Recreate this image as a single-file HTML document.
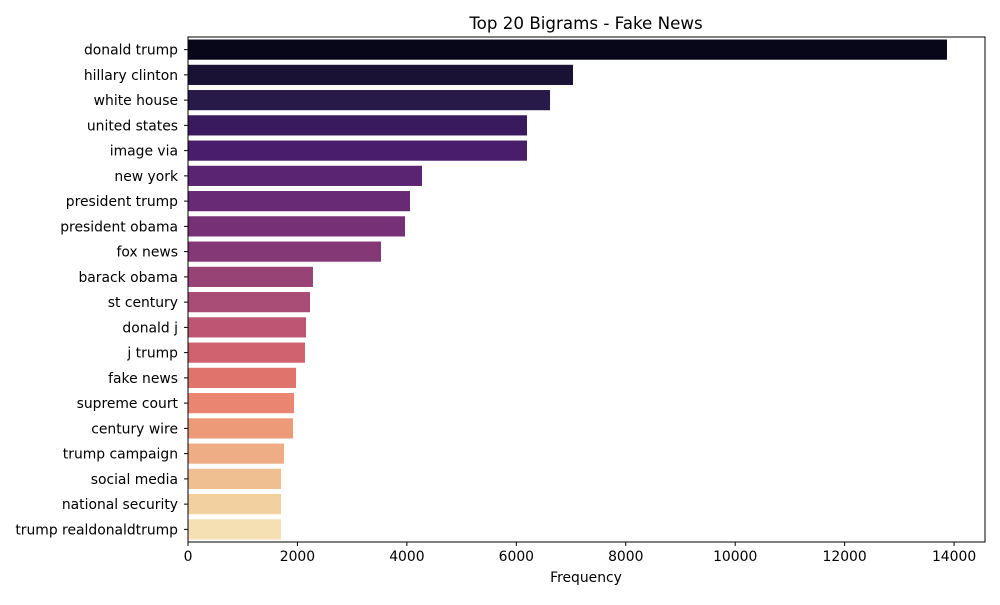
<!DOCTYPE html>
<html><head><meta charset="utf-8"><style>
body{margin:0;background:#fff;font-family:"Liberation Sans","DejaVu Sans",sans-serif;}
svg text{font-family:"DejaVu Sans","Liberation Sans",sans-serif;}
</style></head><body>
<svg id="chart" width="1000" height="600" xmlns="http://www.w3.org/2000/svg">
<rect width="1000" height="600" fill="#fff"/>
<text x="586" y="29" font-size="16.7" text-anchor="middle" fill="#000">Top 20 Bigrams - Fake News</text>
<g id="bars"></g>
<g id="yticks"></g>
<g id="xticks"></g>
<rect x="188" y="37" width="797" height="505" fill="none" stroke="#000" stroke-width="1"/>
<text x="586" y="582" font-size="13.9" text-anchor="middle" fill="#000">Frequency</text>
</svg>
<script>
const categories=["donald trump","hillary clinton","white house","united states","image via","new york","president trump","president obama","fox news","barack obama","st century","donald j","j trump","fake news","supreme court","century wire","trump campaign","social media","national security","trump realdonaldtrump"];
const values=[13870,7036,6616,6195,6195,4276,4057,3966,3527,2284,2230,2157,2138,1974,1937,1919,1754,1700,1700,1700];
const colors=["#08071a","#1a1235","#271a48","#3a1a5e","#4a1d6a","#5a2472","#682a74","#763075","#853876","#974376","#a94d76","#bc5673","#d0616f","#e0736a","#e98570","#ed9a78","#eead84","#f0bf91","#f2d09f","#f4e0b2"];
const xTicks=[0,2000,4000,6000,8000,10000,12000,14000];
const NS="http://www.w3.org/2000/svg";
const L=188,T=37,W=797,H=505,XMAX=14565;
const x=v=>L+v/XMAX*W;
const slot=H/categories.length;
const y=i=>T+i*slot;
function mk(tag,attrs,parent){const e=document.createElementNS(NS,tag);for(const k in attrs)e.setAttribute(k,attrs[k]);parent.appendChild(e);return e;}
const gb=document.getElementById('bars'),gy=document.getElementById('yticks'),gx=document.getElementById('xticks');
categories.forEach((c,i)=>{
  const r=mk('rect',{x:x(0),y:y(i)+slot*0.1,width:x(values[i])-x(0),height:slot*0.8,fill:colors[i]},gb);
  
  
  const cy=y(i)+slot/2;
  mk('line',{x1:L-4,x2:L,y1:cy,y2:cy,stroke:'#000'},gy);
  const t=mk('text',{x:L-10,y:cy+5,'font-size':13.9,'text-anchor':'end',fill:'#000'},gy);
  t.textContent=c;
  
  
});
xTicks.forEach(v=>{
  const px=x(v);
  mk('line',{x1:px,x2:px,y1:T+H,y2:T+H+4,stroke:'#000'},gx);
  const t=mk('text',{x:px,y:T+H+19,'font-size':13.9,'text-anchor':'middle',fill:'#000'},gx);
  t.textContent=v;
  
  
});
</script>
</body></html>
